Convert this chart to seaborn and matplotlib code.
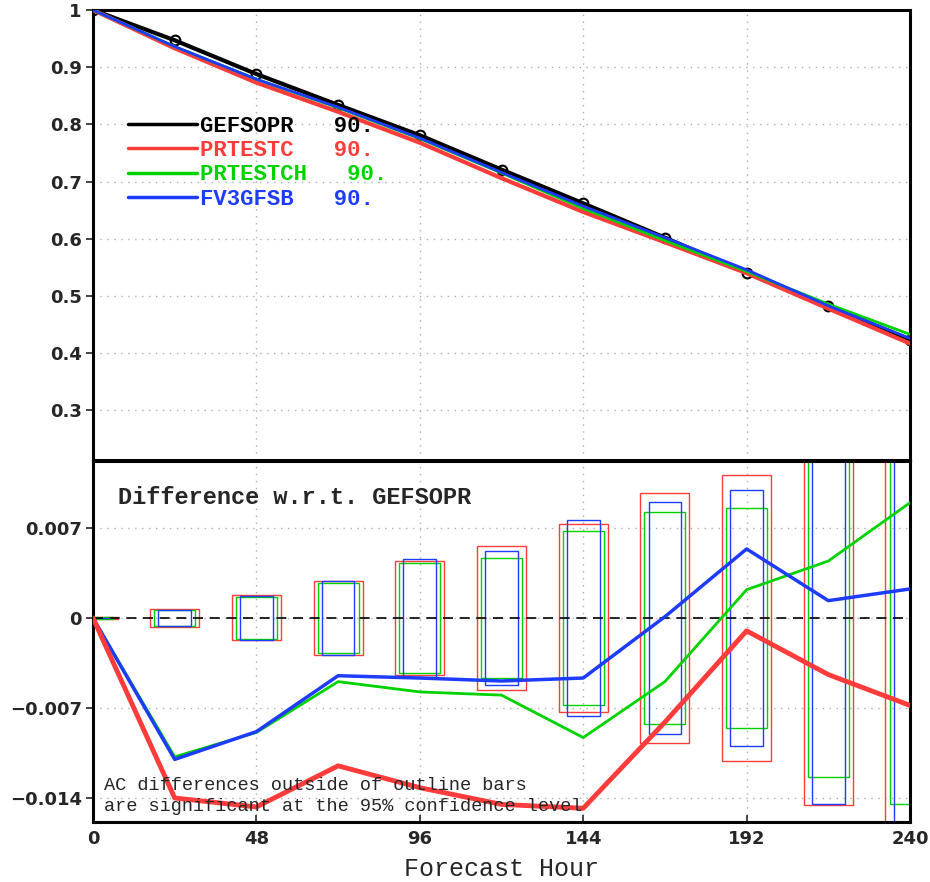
import numpy as np
import pandas as pd
import seaborn as sns
import matplotlib
matplotlib.use("Agg")
import matplotlib.pyplot as plt
from matplotlib.lines import Line2D

# forecast hours
hours = [0, 24, 48, 72, 96, 120, 144, 168, 192, 216, 240]

# anomaly correlation (top panel)
gefsopr = [1.0, 0.947, 0.888, 0.834, 0.781, 0.721, 0.662, 0.602, 0.541, 0.482, 0.424]
prtestc = [1.0, 0.933, 0.873, 0.822, 0.768, 0.706, 0.647, 0.594, 0.540, 0.478, 0.417]
prtestch = [1.0, 0.936, 0.879, 0.829, 0.775, 0.715, 0.653, 0.597, 0.543, 0.486, 0.433]
fv3gfsb = [1.0, 0.936, 0.879, 0.830, 0.776, 0.716, 0.657, 0.602, 0.546, 0.483, 0.426]

# difference w.r.t. GEFSOPR (bottom panel)
d_prtestc = [0.0, -0.0140, -0.0147, -0.0115, -0.0132, -0.0145, -0.0148, -0.0081, -0.0010, -0.0044, -0.0068]
d_prtestch = [0.0, -0.0108, -0.0089, -0.00495, -0.00575, -0.0060, -0.0093, -0.00495, 0.0022, 0.00443, 0.00897]
d_fv3gfsb = [0.0, -0.0110, -0.00884, -0.00449, -0.00467, -0.0049, -0.00467, 0.0001, 0.00537, 0.00135, 0.00226]

# 95% confidence half-ranges (outline bars)
ci_prtestc = [0.0001, 0.00071, 0.00175, 0.0029, 0.00447, 0.00557, 0.00732, 0.00972, 0.01115, 0.01457, 0.0175]
ci_prtestch = [0.00006, 0.00065, 0.00162, 0.00272, 0.00428, 0.0047, 0.0068, 0.00823, 0.00857, 0.01237, 0.01447]
ci_fv3gfsb = [0.0, 0.00066, 0.00169, 0.00284, 0.00456, 0.00524, 0.00762, 0.0090, 0.00994, 0.01447, 0.0168]

names = ["GEFSOPR", "PRTESTC", "PRTESTCH", "FV3GFSB"]
labels = ["GEFSOPR   90.", "PRTESTC   90.", "PRTESTCH   90.", "FV3GFSB   90."]
colors = {"GEFSOPR": "black", "PRTESTC": "#ff3c3c", "PRTESTCH": "#00d200", "FV3GFSB": "#1e3cff"}

sns.set_style("white")
plt.rcParams["font.family"] = ["DejaVu Sans"]

fig = plt.figure(figsize=(9.3, 8.82), dpi=100)
ax1 = fig.add_axes([0.1, 0.4785, 0.8785, 0.5102])
ax2 = fig.add_axes([0.1, 0.068, 0.8785, 0.4093], sharex=ax1)

grid_kw = dict(color="#b0b0b0", linestyle=(0, (1, 4)), linewidth=1.0)

# ---- top panel ----
top = pd.DataFrame({"hour": hours, "GEFSOPR": gefsopr, "PRTESTC": prtestc,
                    "PRTESTCH": prtestch, "FV3GFSB": fv3gfsb})
widths = {"GEFSOPR": 3.0, "PRTESTC": 3.0, "PRTESTCH": 2.0, "FV3GFSB": 2.0}
for n in ["PRTESTC", "PRTESTCH", "FV3GFSB"]:
    sns.lineplot(data=top, x="hour", y=n, color=colors[n], lw=widths[n], ax=ax1, zorder=3)
sns.lineplot(data=top, x="hour", y="GEFSOPR", color="black", lw=3, ax=ax1, zorder=2,
             marker="o", markersize=7, markerfacecolor="none", markeredgecolor="black",
             markeredgewidth=1.5)
ax1.set_xlim(0, 240)
ax1.set_ylim(0.2135, 1.0)
ax1.set_yticks([0.3, 0.4, 0.5, 0.6, 0.7, 0.8, 0.9, 1.0])
ax1.set_yticklabels(["0.3", "0.4", "0.5", "0.6", "0.7", "0.8", "0.9", "1"])
ax1.set_xticks([0, 48, 96, 144, 192, 240])
ax1.grid(True, **grid_kw)
ax1.tick_params(labelbottom=False, bottom=False)
ax1.set_xlabel("")
ax1.set_ylabel("")

handles = [Line2D([], [], color=colors[n], lw=2.5) for n in names]
leg = ax1.legend(handles, labels, loc="upper left", bbox_to_anchor=(0.043, 0.765),
                 frameon=False, borderaxespad=0, borderpad=0, handlelength=3.1,
                 handletextpad=0.15, labelspacing=0.15, labelcolor="linecolor",
                 prop={"family": "Liberation Mono", "weight": "bold", "size": 16})

# ---- bottom panel ----
diff = pd.DataFrame({"hour": hours, "PRTESTC": d_prtestc, "PRTESTCH": d_prtestch,
                     "FV3GFSB": d_fv3gfsb})
ci = {"PRTESTC": ci_prtestc, "PRTESTCH": ci_prtestch, "FV3GFSB": ci_fv3gfsb}
half_w = {"PRTESTC": 7.2, "PRTESTCH": 6.0, "FV3GFSB": 4.8}
for n in ["PRTESTC", "PRTESTCH", "FV3GFSB"]:
    h = np.array(ci[n])
    ax2.bar(hours, 2 * h, bottom=-h, width=2 * half_w[n], fill=False,
            edgecolor=colors[n], linewidth=1.0, zorder=2)
ax2.axhline(0, color="black", lw=1.2, ls=(0, (6, 4)), zorder=3)
dw = {"PRTESTC": 3.5, "PRTESTCH": 2.0, "FV3GFSB": 2.5}
for n in ["PRTESTCH", "FV3GFSB", "PRTESTC"]:
    sns.lineplot(data=diff, x="hour", y=n, color=colors[n], lw=dw[n], ax=ax2, zorder=4)
ax2.set_ylim(-0.01587, 0.01221)
ax2.set_yticks([-0.014, -0.007, 0, 0.007])
ax2.set_yticklabels(["\u22120.014", "\u22120.007", "0", "0.007"])
ax2.set_xticks([0, 48, 96, 144, 192, 240])
ax2.set_xticklabels(["0", "48", "96", "144", "192", "240"])
ax2.grid(True, **grid_kw)
ax2.set_ylabel("")
ax2.set_xlabel("Forecast Hour", family="Liberation Mono", fontsize=18, labelpad=6)

ax2.text(0.03, 0.9, "Difference w.r.t. GEFSOPR", transform=ax2.transAxes,
         family="Liberation Mono", weight="bold", fontsize=17, va="center")
ax2.text(0.014, 0.125, "AC differences outside of outline bars\nare significant at the 95% confidence level",
         transform=ax2.transAxes, family="Liberation Mono", fontsize=13.4,
         va="top", linespacing=1.35, zorder=5)

for ax in (ax1, ax2):
    for s in ax.spines.values():
        s.set_visible(True)
        s.set_color("black")
        s.set_linewidth(2.2)
    ax.tick_params(axis="y", which="major", length=5, width=1.2, direction="out",
                   left=True, labelsize=13, pad=3)
    for t in ax.get_yticklabels():
        t.set_fontweight("bold")
ax2.tick_params(axis="x", length=5, width=1.2, direction="in", bottom=True,
                labelsize=13, pad=6)
for t in ax2.get_xticklabels():
    t.set_fontweight("bold")

fig.savefig("out.png", dpi=100)
